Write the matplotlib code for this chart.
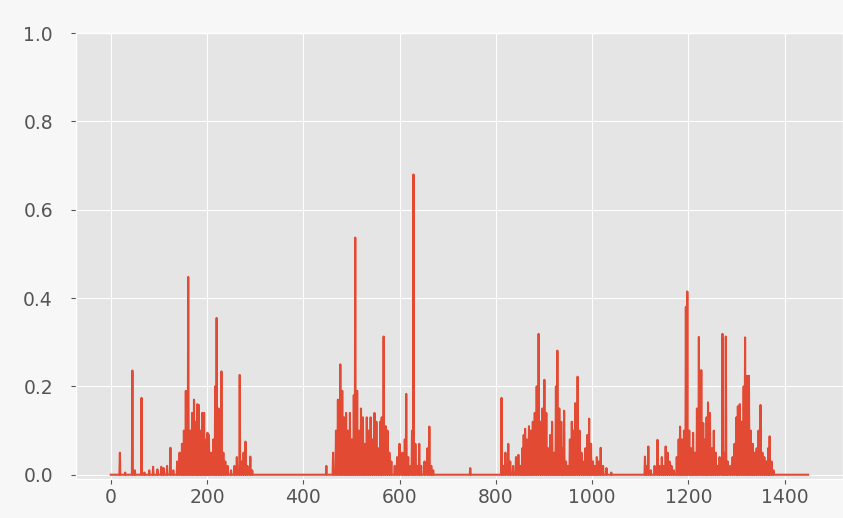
import numpy as np
import matplotlib
matplotlib.use("Agg")
import matplotlib.pyplot as plt

plt.style.use("ggplot")

n_points = 1450

# values: (index, value); every other index is 0
c1_idx = [19, 30, 45, 50, 64, 70, 80, 88, 97, 105, 110, 117, 124, 130, 138, 143,
          148, 152, 156, 161, 165, 169, 173, 177, 180, 183, 187, 190, 194, 198,
          201, 204, 208, 213, 217, 220, 224, 227, 230, 234, 238, 243, 250, 257,
          262, 268, 272, 276, 280, 284, 290, 294]
c1_val = [0.05, 0.005, 0.236, 0.01, 0.174, 0.005, 0.01, 0.018, 0.012, 0.018, 0.015,
          0.02, 0.061, 0.01, 0.03, 0.05, 0.07, 0.1, 0.19, 0.448, 0.1, 0.14, 0.17,
          0.12, 0.16, 0.158, 0.1, 0.14, 0.14, 0.08, 0.095, 0.09, 0.05, 0.08, 0.2,
          0.355, 0.15, 0.1, 0.234, 0.05, 0.03, 0.02, 0.01, 0.02, 0.04, 0.226, 0.03,
          0.05, 0.075, 0.02, 0.041, 0.01]

c2_idx = [448, 462, 468, 472, 477, 481, 485, 489, 493, 497, 501, 505, 508, 512,
          516, 520, 524, 528, 532, 536, 540, 544, 548, 552, 556, 560, 563, 567,
          571, 575, 579, 583, 590, 595, 600, 606, 611, 614, 618, 621, 626, 629,
          633, 637, 641, 645, 652, 658, 662, 666, 670]
c2_val = [0.02, 0.05, 0.1, 0.17, 0.25, 0.19, 0.13, 0.14, 0.1, 0.14, 0.08, 0.18,
          0.537, 0.19, 0.1, 0.15, 0.13, 0.07, 0.13, 0.1, 0.13, 0.08, 0.14, 0.12,
          0.06, 0.12, 0.13, 0.313, 0.11, 0.1, 0.05, 0.03, 0.02, 0.04, 0.07, 0.05,
          0.08, 0.183, 0.04, 0.02, 0.1, 0.68, 0.07, 0.02, 0.07, 0.02, 0.03, 0.06,
          0.109, 0.02, 0.01]

c3_idx = [747, 812, 816, 820, 826, 830, 836, 842, 847, 851, 855, 858, 861, 865,
          869, 873, 877, 881, 885, 889, 893, 897, 901, 905, 909, 913, 917, 921,
          925, 928, 932, 936, 939, 942, 946, 950, 954, 958, 962, 965, 970, 974,
          978, 982, 986, 990, 994, 998, 1002, 1006, 1010, 1014, 1018, 1023, 1030,
          1040]
c3_val = [0.015, 0.174, 0.02, 0.05, 0.07, 0.03, 0.02, 0.04, 0.045, 0.02, 0.06,
          0.09, 0.104, 0.08, 0.11, 0.1, 0.12, 0.14, 0.2, 0.319, 0.12, 0.15, 0.215,
          0.14, 0.06, 0.09, 0.12, 0.05, 0.2, 0.281, 0.15, 0.12, 0.06, 0.145, 0.03,
          0.02, 0.08, 0.12, 0.1, 0.162, 0.222, 0.1, 0.05, 0.03, 0.06, 0.09, 0.127,
          0.07, 0.03, 0.02, 0.04, 0.03, 0.061, 0.02, 0.015, 0.005]

c4_idx = [1110, 1113, 1117, 1122, 1130, 1136, 1140, 1145, 1149, 1153, 1157, 1161,
          1165, 1170, 1176, 1180, 1183, 1187, 1191, 1195, 1198, 1202, 1206, 1210,
          1214, 1218, 1222, 1227, 1231, 1235, 1238, 1241, 1245, 1249, 1253, 1257,
          1261, 1265, 1271, 1274, 1278, 1282, 1287, 1292, 1296, 1300, 1303, 1307,
          1311, 1315, 1318, 1322, 1326, 1330, 1334, 1338, 1342, 1346, 1350, 1354,
          1358, 1362, 1366, 1369, 1373, 1377]
c4_val = [0.041, 0.02, 0.064, 0.01, 0.02, 0.079, 0.02, 0.04, 0.02, 0.064, 0.05,
          0.03, 0.02, 0.01, 0.04, 0.08, 0.109, 0.08, 0.1, 0.38, 0.415, 0.1, 0.06,
          0.095, 0.05, 0.15, 0.312, 0.237, 0.117, 0.08, 0.13, 0.164, 0.14, 0.06,
          0.1, 0.05, 0.02, 0.04, 0.319, 0.05, 0.313, 0.03, 0.02, 0.04, 0.07, 0.13,
          0.155, 0.16, 0.12, 0.2, 0.311, 0.224, 0.224, 0.1, 0.07, 0.05, 0.06, 0.1,
          0.158, 0.05, 0.04, 0.03, 0.06, 0.087, 0.03, 0.01]

series = np.zeros(n_points)
for idx, val in [(c1_idx, c1_val), (c2_idx, c2_val), (c3_idx, c3_val), (c4_idx, c4_val)]:
    series[idx] = val

fig = plt.figure(figsize=(8.43, 5.18), dpi=100, facecolor="#f7f7f7")
ax = fig.add_axes([0.090, 0.075, 0.910, 0.861])
ax.plot(series, color="#E24A33", linewidth=1.5)
ax.set_ylim(-0.01, 1.0)
ax.tick_params(labelsize=13.5, colors="#555555")
ax.tick_params(axis="y", pad=13)
ax.tick_params(axis="x", pad=3)

fig.savefig("out.png", dpi=100, facecolor=fig.get_facecolor())
